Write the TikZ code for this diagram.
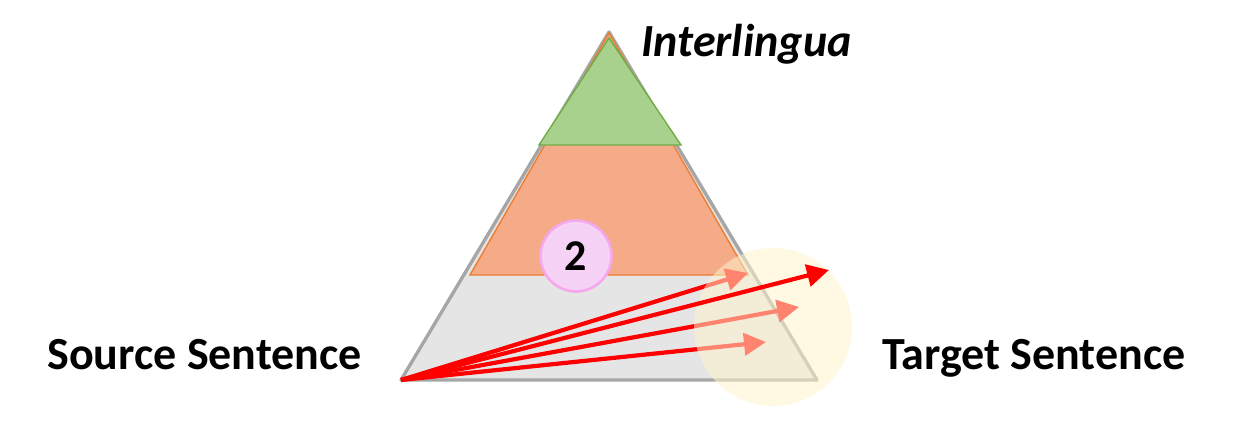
\documentclass[tikz,border=0pt]{standalone}
\usepackage{fontspec}
\setmainfont{Carlito}
\usepackage{tikz}
\usetikzlibrary{arrows.meta, calc, positioning}

\definecolor{layergray}{HTML}{E6E5E6}
\definecolor{edgegray}{HTML}{A6A6A6}
\definecolor{layerorange}{HTML}{F5AA88}
\definecolor{edgeorange}{HTML}{ED7D31}
\definecolor{layergreen}{HTML}{A9D18E}
\definecolor{edgegreen}{HTML}{70AD47}
\definecolor{stagepink}{HTML}{F6D3F6}
\definecolor{stageedge}{HTML}{F5A8EC}
\definecolor{focusyellow}{HTML}{FFF2CC}

\begin{document}
\begin{tikzpicture}[
    x=0.02cm, y=-0.02cm,
    label/.style={font=\fontsize{26.2}{30}\selectfont\bfseries, inner sep=0pt},
    stage/.style={circle, draw=stageedge, line width=1.5pt, fill=stagepink,
        minimum size=1.42cm, inner sep=0pt, font=\fontsize{25}{28}\selectfont\bfseries},
    arrow/.style={-{Triangle[length=0.44cm, width=0.44cm]}, line width=2.4pt, red}]

    \useasboundingbox (0,0) rectangle (1243,426);

    % pyramid corners
    \coordinate (bl) at (401,380);
    \coordinate (br) at (817,380);
    \coordinate (apex) at (609,32);

    \fill[layergray] (bl) -- (br) -- (apex) -- cycle;
    \draw[edgegray, line width=1.9pt, line join=round] (bl) -- (br) -- (apex) -- cycle;
    \filldraw[fill=layerorange, draw=edgeorange, line width=0.8pt] (470,275) -- (748,275) -- (609,33) -- cycle;
    \filldraw[fill=layergreen, draw=edgegreen, line width=0.8pt] (539,145) -- (681,145) -- (609,38) -- cycle;

    % arrows from the source
    \coordinate (src) at (bl);
    \coordinate (t1) at (748,273);
    \coordinate (t2) at (829,270);
    \coordinate (t3) at (799,307);
    \coordinate (t4) at (766,342);
    \draw[arrow] (src) -- (t1);
    \draw[arrow] (src) -- (t3);
    \draw[arrow] (src) -- (t4);

    \fill[focusyellow, opacity=0.55] (773,327) circle (79);
    \draw[arrow] (src) -- (t2);

    \node[stage] (two) at (576,256) {2};

    \node[label, anchor=base west] (source) at (47,369) {Source Sentence};
    \node[label, anchor=base west] (target) at (882,369) {Target Sentence};
    \node[label, anchor=base west, font=\fontsize{26.2}{30}\selectfont\bfseries\itshape] (inter) at (641,56) {Interlingua};
\end{tikzpicture}
\end{document}
